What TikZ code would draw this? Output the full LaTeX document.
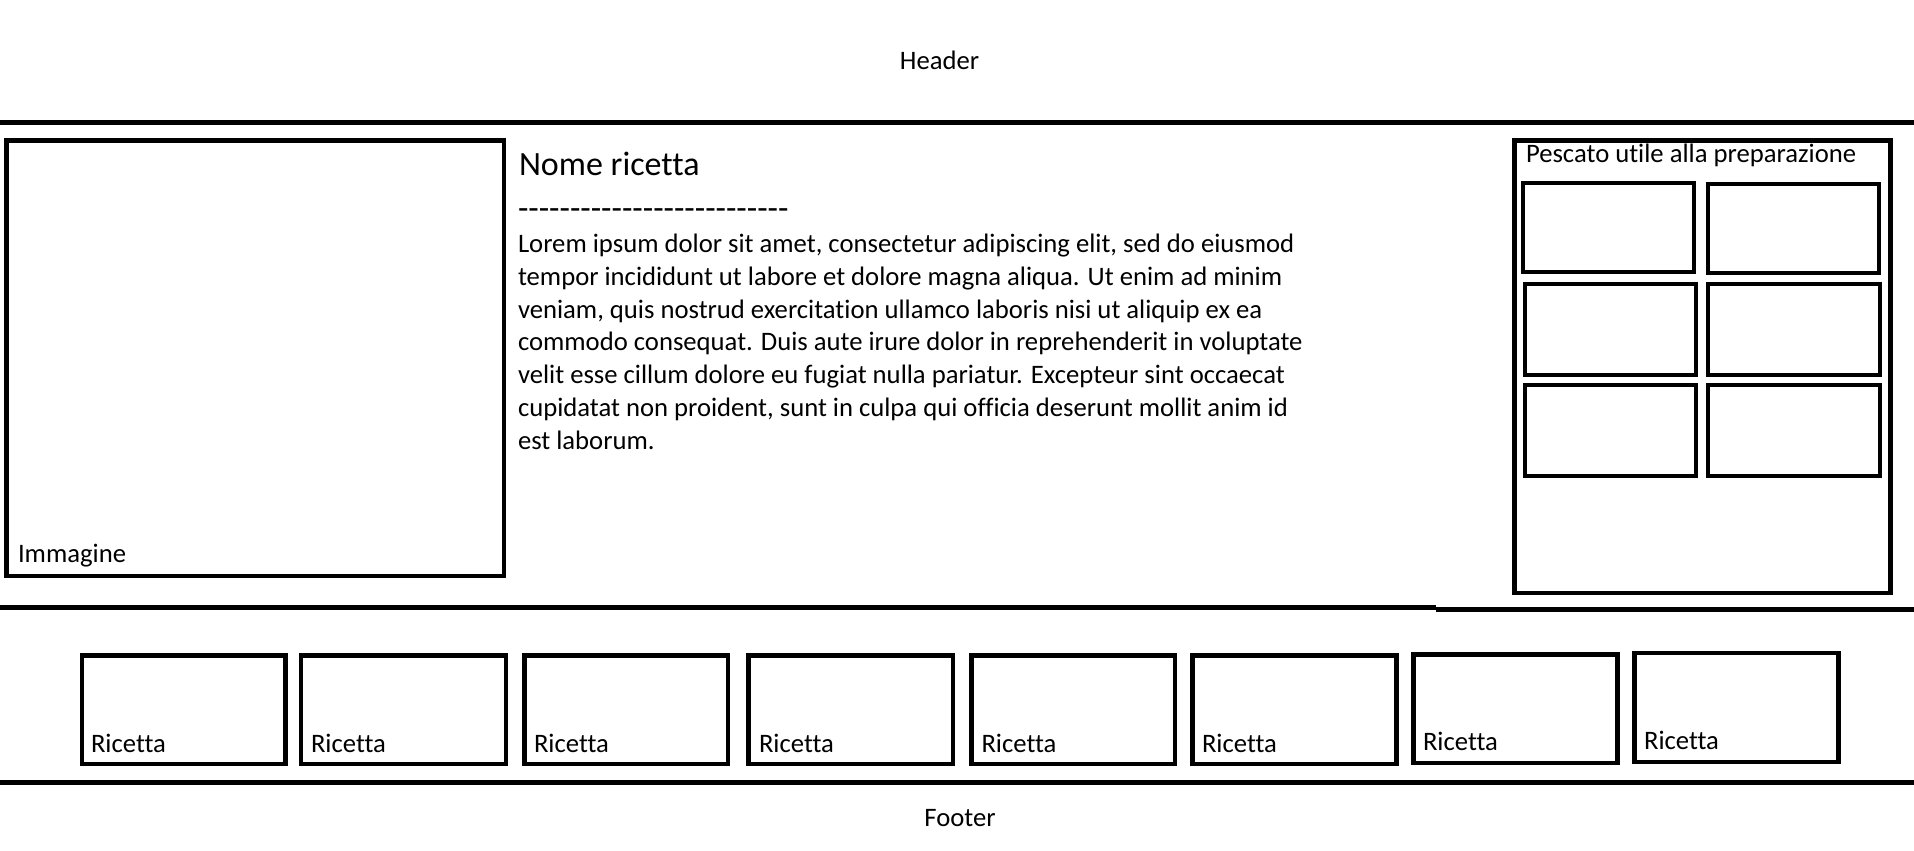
\documentclass[tikz,border=0pt]{standalone}
\usepackage{fontspec}
\setmainfont{Carlito}[Ligatures={CommonOff,TeXOff}]
\begin{document}
\begin{tikzpicture}[x=1bp,y=-1bp,
  frame/.style={draw=black,line width=4.5bp,inner sep=0pt,outer sep=0pt},
  rule/.style={draw=black,line width=5bp},
  txt/.style={inner sep=0pt,outer sep=0pt,anchor=base west,font=\fontsize{26.67bp}{32.8bp}\selectfont},
  small/.style={inner sep=0pt,outer sep=0pt,anchor=base,font=\fontsize{26.67bp}{32.8bp}\selectfont}]
\useasboundingbox[fill=white] (0,0) rectangle (1914,851);
% header / footer
\node[small] (header) at (939.5,69) {Header};
\node[small] (footer) at (960,826) {Footer};
% rules
\coordinate (t1) at (0,122.5); \coordinate (t2) at (1914,122.5);
\draw[rule] (t1) -- (t2);
\coordinate (m1) at (0,607.5); \coordinate (m2) at (1436,607.5);
\coordinate (m3) at (1436,609); \coordinate (m4) at (1914,609);
\draw[rule] (m1) -- (m2);
\draw[rule] (m3) -- (m4);
\coordinate (b1) at (0,782); \coordinate (b2) at (1914,782);
\draw[rule] (b1) -- (b2);
% image box
\node[frame,minimum width=497.5bp,minimum height=435.5bp] (img) at (255.25,358.25) {};
\node[txt] (imgl) at (18,562) {Immagine};
% title and text
\node[txt,font=\fontsize{34bp}{41bp}\selectfont] (title) at (519,175.5) {Nome ricetta};
\node[txt,font=\fontsize{34bp}{41bp}\selectfont] (dashes) at (518,219.5) {--------------------------};
\node[txt,align=left] (lorem) at (518,449.3) {Lorem ipsum dolor sit amet, consectetur adipiscing elit, sed do eiusmod\\
tempor incididunt ut labore et dolore magna aliqua. Ut enim ad minim\\
veniam, quis nostrud exercitation ullamco laboris nisi ut aliquip ex ea\\
commodo consequat. Duis aute irure dolor in reprehenderit in voluptate\\
velit esse cillum dolore eu fugiat nulla pariatur. Excepteur sint occaecat\\
cupidatat non proident, sunt in culpa qui officia deserunt mollit anim id\\
est laborum.};
% side panel
\node[frame,minimum width=376bp,minimum height=452.5bp] (side) at (1702.5,366.75) {};
\node[txt] (sidel) at (1526,162.7) {Pescato utile alla preparazione};
\node[frame,minimum width=171bp,minimum height=89bp] (p1) at (1608.5,227.5) {};
\node[frame,minimum width=171bp,minimum height=89bp] (p2) at (1793.5,228.5) {};
\node[frame,minimum width=171bp,minimum height=91bp] (p3) at (1610.5,329.5) {};
\node[frame,minimum width=172bp,minimum height=91bp] (p4) at (1794,329.5) {};
\node[frame,minimum width=171bp,minimum height=91bp] (p5) at (1610.5,430.5) {};
\node[frame,minimum width=172bp,minimum height=91bp] (p6) at (1794,430.5) {};
% recipe boxes
\node[frame,minimum width=203.5bp,minimum height=108.5bp] (r1) at (183.75,709.75) {};
\node[frame,minimum width=205bp,minimum height=108.5bp] (r2) at (403.5,709.75) {};
\node[frame,minimum width=203.5bp,minimum height=108.5bp] (r3) at (626.25,709.75) {};
\node[frame,minimum width=204.5bp,minimum height=108.5bp] (r4) at (850.75,709.75) {};
\node[frame,minimum width=203.5bp,minimum height=108.5bp] (r5) at (1073.25,709.75) {};
\node[frame,minimum width=204bp,minimum height=108.5bp] (r6) at (1294.5,709.75) {};
\node[frame,minimum width=204bp,minimum height=108.5bp] (r7) at (1515.5,708.75) {};
\node[frame,minimum width=204bp,minimum height=109bp] (r8) at (1736.5,707.5) {};
\node[txt] (r1l) at (91,752) {Ricetta};
\node[txt] (r2l) at (311,752) {Ricetta};
\node[txt] (r3l) at (534,752) {Ricetta};
\node[txt] (r4l) at (759,752) {Ricetta};
\node[txt] (r5l) at (981.5,752) {Ricetta};
\node[txt] (r6l) at (1202,752) {Ricetta};
\node[txt] (r7l) at (1423,750.5) {Ricetta};
\node[txt] (r8l) at (1644,749) {Ricetta};
\end{tikzpicture}
\end{document}
